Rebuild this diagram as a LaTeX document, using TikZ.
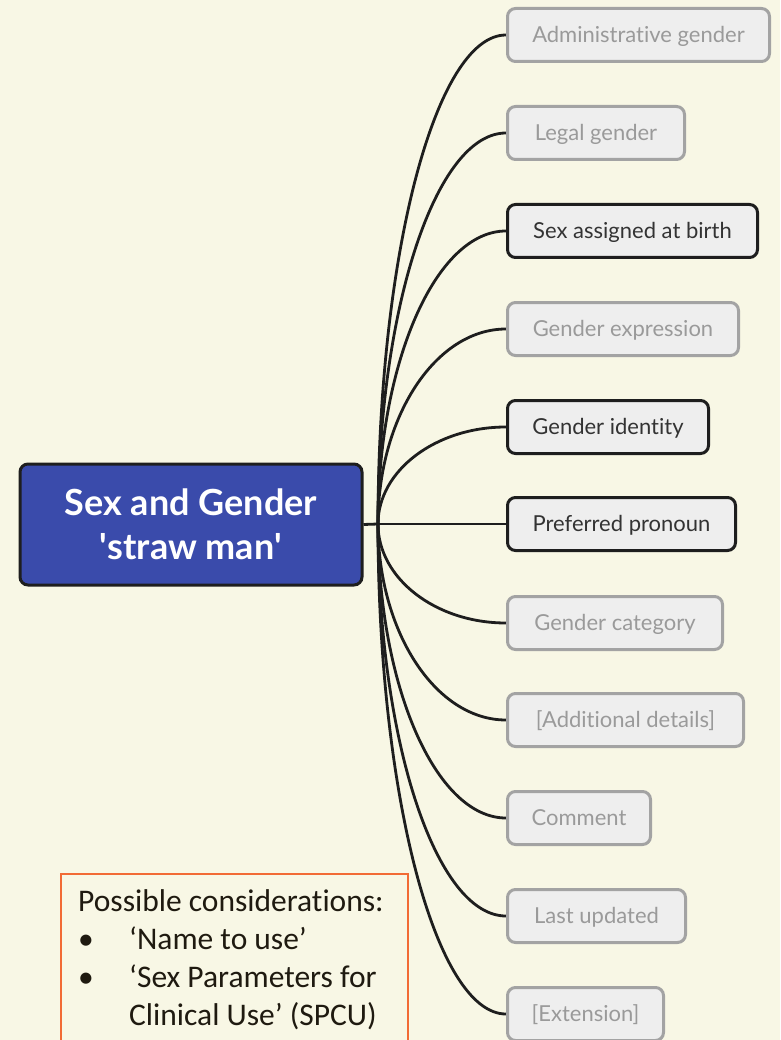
\documentclass[tikz,border=0pt]{standalone}
\usepackage{fontspec}
\setmainfont{Lato}[Ligatures={TeX,NoCommon}]
\newfontfamily\notefont{Carlito}[Ligatures={TeX,NoCommon}]
\usetikzlibrary{calc}
\definecolor{bg}{HTML}{F8F7E5}
\definecolor{rootblue}{HTML}{3A4BAB}
\definecolor{boxfill}{HTML}{EEEEEE}
\definecolor{greyline}{HTML}{A3A3A3}
\definecolor{greytext}{HTML}{9A9A9A}
\definecolor{darkline}{HTML}{1E1E1E}
\definecolor{darktext}{HTML}{333333}
\definecolor{noteorange}{HTML}{F26B35}
\definecolor{notetext}{HTML}{1F1A10}
\tikzset{
  rootbox/.style={draw=darkline, fill=rootblue, line width=3pt, rounded corners=8pt,
    minimum width=342pt, minimum height=121pt, align=center, text=white,
    font=\fontsize{36}{42}\selectfont\bfseries},
  leaf/.style={fill=boxfill, line width=3pt, rounded corners=8pt, minimum height=53pt,
    anchor=west, inner xsep=0pt, text height=15.5pt, text depth=0pt, font=\fontsize{22}{24}\selectfont},
  greyleaf/.style={leaf, draw=greyline, text=greytext},
  darkleaf/.style={leaf, draw=darkline, text=darktext},
  conn/.style={draw=darkline, line width=2.8pt},
  notebox/.style={draw=noteorange, line width=1.5pt, fill=none},
  noteline/.style={anchor=base west, inner sep=0pt, text=notetext, font=\notefont\fontsize{31.5}{38}\selectfont},
}
\begin{document}
\begin{tikzpicture}[x=1pt,y=-1pt]
\fill[bg] (0,0) rectangle (780,1040);
\useasboundingbox (0,0) rectangle (780,1040);

\node[rootbox] (root) at (191,524.5) {Sex and Gender\\[2pt]\textquotesingle straw man\textquotesingle};
\coordinate (hub) at (378,524);

\foreach \i/\cy/\w/\s/\t in {
  1/35/262/greyleaf/Administrative gender,
  2/133/177/greyleaf/Legal gender,
  3/231/250/darkleaf/Sex assigned at birth,
  4/329/231/greyleaf/Gender expression,
  5/427/201/darkleaf/Gender identity,
  6/524/228/darkleaf/Preferred pronoun,
  7/623/215/greyleaf/Gender category,
  8/720/236/greyleaf/{[Additional details]},
  9/818/143/greyleaf/Comment,
  10/916/178/greyleaf/Last updated,
  11/1014/156/greyleaf/{[Extension]}}{
  \draw[conn] (hub) .. controls ($(hub)!0.55!(hub |- 506,\cy)$) and ($(506,\cy)!0.55!(hub |- 506,\cy)$) .. (506,\cy);
  \node[\s, minimum width=\w pt] (c\i) at (506,\cy) {\t};
}
\draw[conn] (root.east) -- (hub);

\draw[notebox] (61,874) rectangle (408,1060);
\node[noteline] (n1) at (78,911) {Possible considerations:};
\node[noteline] (n2) at (78,949) {\makebox[51pt][l]{\textbullet}‘Name to use’};
\node[noteline] (n3) at (78,987) {\makebox[51pt][l]{\textbullet}‘Sex Parameters for};
\node[noteline] (n4) at (129,1025) {Clinical Use’ (SPCU)};
\end{tikzpicture}
\end{document}
